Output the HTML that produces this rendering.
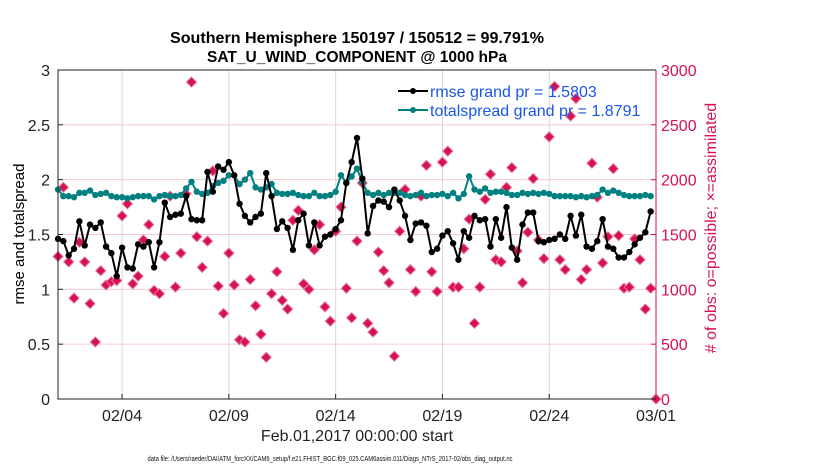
<!DOCTYPE html>
<html><head><meta charset="utf-8"><style>
body{margin:0;background:#fff;}
svg{display:block;font-family:"Liberation Sans",Arial,sans-serif;}
</style></head><body>
<svg id="chart" width="830" height="470" viewBox="0 0 830 470" xmlns="http://www.w3.org/2000/svg">
<rect width="830" height="470" fill="#fff"/>
<g id="grid"></g>
<g id="series"></g>
<g id="axes"></g>
<text x="357" y="43" text-anchor="middle" font-size="15.5" font-weight="bold" textLength="374" lengthAdjust="spacingAndGlyphs">Southern Hemisphere 150197 / 150512 = 99.791%</text>
<text x="357" y="62" text-anchor="middle" font-size="15.5" font-weight="bold">SAT_U_WIND_COMPONENT @ 1000 hPa</text>
<text transform="translate(24,234) rotate(-90)" text-anchor="middle" font-size="15">rmse and totalspread</text>
<text transform="translate(716,228) rotate(-90)" text-anchor="middle" font-size="16" fill="#d6134f"># of obs: o=possible; ×=assimilated</text>
<text x="357" y="441" text-anchor="middle" font-size="16" fill="#222">Feb.01,2017 00:00:00 start</text>
<text x="330" y="461" text-anchor="middle" font-size="7" fill="#111" textLength="365" lengthAdjust="spacingAndGlyphs">data file: /Users/raeder/DAI/ATM_forcXX/CAM6_setup/f.e21.FHIST_BGC.f09_025.CAM6assim.011/Diags_NTrS_2017-02/obs_diag_output.nc</text>
<g>
<line x1="398" y1="91" x2="428" y2="91" stroke="#000" stroke-width="2"/><circle cx="413" cy="91" r="3" fill="#000"/>
<text x="430" y="97" font-size="16" fill="#1a56e8">rmse grand pr = 1.5803</text>
<line x1="398" y1="110" x2="428" y2="110" stroke="#008080" stroke-width="2"/><circle cx="413" cy="110" r="3" fill="#008080"/>
<text x="430" y="116" font-size="16" fill="#1a56e8">totalspread grand pr = 1.8791</text>
</g>
</svg>
<script>
const rmse=[1.46,1.44,1.31,1.37,1.62,1.40,1.59,1.56,1.61,1.39,1.33,1.12,1.38,1.20,1.19,1.41,1.39,1.43,1.20,1.43,1.79,1.66,1.68,1.69,1.85,1.64,1.63,1.63,2.07,1.89,2.12,2.09,2.16,2.04,1.78,1.67,1.61,1.66,1.69,2.06,1.85,1.55,1.62,1.56,1.36,1.63,1.69,1.40,1.61,1.40,1.48,1.50,1.55,1.63,1.97,2.16,2.38,
2.01,1.51,1.76,1.81,1.80,1.75,1.91,1.81,1.67,1.45,1.60,1.61,1.58,1.34,1.37,1.49,1.53,1.42,1.27,1.53,1.47,1.67,1.63,1.64,1.39,1.64,1.47,1.75,1.38,1.27,1.59,1.70,1.70,1.44,1.43,1.45,1.46,1.50,1.46,1.67,1.49,1.68,1.39,1.37,1.44,1.64,1.39,1.37,1.29,1.29,1.34,1.41,1.47,1.52,1.71];
const spread=[1.91,1.85,1.85,1.84,1.88,1.88,1.90,1.86,1.87,1.88,1.85,1.84,1.84,1.83,1.84,1.85,1.85,1.85,1.82,1.85,1.86,1.85,1.85,1.86,1.92,1.98,1.89,1.87,1.88,1.94,1.97,1.99,2.04,2.04,1.96,2.00,2.06,1.93,1.91,1.93,1.96,1.88,1.87,1.87,1.88,1.86,1.85,1.85,1.88,1.85,1.85,1.86,1.89,2.04,1.97,2.03,2.10,
1.98,1.88,1.86,1.88,1.86,1.88,1.88,1.88,1.86,1.85,1.86,1.88,1.85,1.86,1.86,1.87,1.85,1.88,1.83,1.87,2.03,1.91,1.89,1.92,1.88,1.89,1.89,1.88,1.86,1.86,1.88,1.87,1.88,1.87,1.88,1.87,1.85,1.85,1.85,1.85,1.84,1.85,1.84,1.85,1.86,1.91,1.88,1.90,1.88,1.86,1.85,1.85,1.85,1.86,1.85];
const nobs=[1300,1930,1250,920,1430,1250,870,520,1170,1040,1070,1080,1670,1780,1050,1120,1450,1590,990,960,1300,1850,1020,1330,1870,2890,1480,1200,1440,2080,1030,780,1330,1040,540,520,1090,850,590,380,960,1160,900,820,1630,1720,1050,1000,1360,1590,840,710,1530,1750,1010,740,1440,
1970,690,610,1340,1170,1060,390,1530,1910,1180,980,1850,2130,1160,980,2160,2260,1020,1020,1370,1640,690,1020,1820,2050,1270,1250,1930,2110,1350,1060,1520,2010,1450,1280,2390,2850,1270,1180,2580,2740,1090,1180,2150,1840,1240,1480,2100,1490,1010,1020,1460,1270,820,1010,0];
const xTickLabels=["02/04","02/09","02/14","02/19","02/24","03/01"];
const xTickDays=[3,8,13,18,23,28];
const yTicks=[0,0.5,1,1.5,2,2.5,3];
const y2Ticks=[0,500,1000,1500,2000,2500,3000];

const L=58,R=656,T=70,B=399,NS="http://www.w3.org/2000/svg";
const xDay=d=>L+(R-L)*d/28;
const xIdx=i=>xDay(i*0.25);
const yL=v=>B-(B-T)*v/3;
const yR=v=>B-(B-T)*v/3000;
function mk(tag,attrs,parent){const e=document.createElementNS(NS,tag);for(const k in attrs)e.setAttribute(k,attrs[k]);parent.appendChild(e);return e;}
const grid=document.getElementById('grid'),ser=document.getElementById('series'),ax=document.getElementById('axes');
yTicks.forEach((v,i)=>{if(v>0&&v<3){const g=mk('line',{x1:L,x2:R,y1:yL(v),y2:yL(v),stroke:'#f5c8d6','stroke-width':1},grid);

}
const t=mk('text',{x:L-8,y:yL(v)+6,'text-anchor':'end','font-size':16,fill:'#222'},ax);t.textContent=v;


mk('line',{x1:L,x2:L+5,y1:yL(v),y2:yL(v),stroke:'#222'},ax);});
y2Ticks.forEach(v=>{const t=mk('text',{x:R+5,y:yR(v)+6,'text-anchor':'start','font-size':16,fill:'#d6134f'},ax);t.textContent=v;


mk('line',{x1:R-5,x2:R,y1:yR(v),y2:yR(v),stroke:'#d6134f'},ax);});
xTickDays.forEach((d,i)=>{const x=xDay(d);
const g=mk('line',{x1:x,x2:x,y1:T,y2:B,stroke:'#d8d8d8'},grid);


mk('line',{x1:x,x2:x,y1:B,y2:B-5,stroke:'#222'},ax);
const t=mk('text',{x:x,y:B+22,'text-anchor':'middle','font-size':16,fill:'#222'},ax);t.textContent=xTickLabels[i];

});
const fr=mk('path',{d:`M${R},${T}H${L}V${B}H${R}`,fill:'none',stroke:'#222','stroke-width':1},ax);


const ra=mk('line',{x1:R,x2:R,y1:T,y2:B,stroke:'#d6134f','stroke-width':1},ax);


nobs.forEach((v,i)=>{const x=xIdx(i),y=yR(v);
const d=mk('path',{d:`M${x},${y-5}L${x+5},${y}L${x},${y+5}L${x-5},${y}Z`,fill:'#d6134f',stroke:'#e8739a','stroke-width':1},ser);

});
function line(arr,col,name){
const p=mk('polyline',{points:arr.map((v,i)=>xIdx(i)+','+yL(v)).join(' '),fill:'none',stroke:col,'stroke-width':2},ser);


arr.forEach((v,i)=>{const c=mk('circle',{cx:xIdx(i),cy:yL(v),r:3.2,fill:col},ser);

});}
line(spread,'#008080','totalspread');
line(rmse,'#000','rmse');
</script>
</body></html>
